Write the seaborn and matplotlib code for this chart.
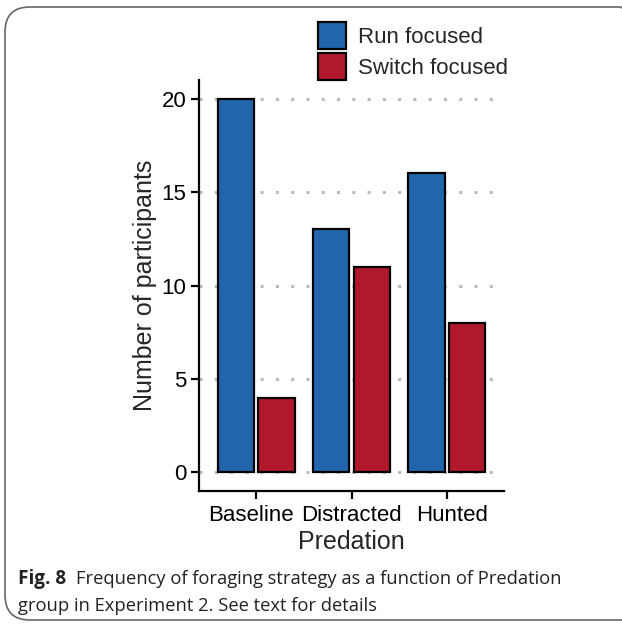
import matplotlib
matplotlib.use("Agg")
from matplotlib import pyplot as plt
from matplotlib.patches import FancyBboxPatch
import matplotlib.transforms as mtransforms
import pandas as pd
import seaborn as sns

groups = ["Baseline", "Distracted", "Hunted"]
run_focused = [20, 13, 16]
switch_focused = [4, 11, 8]
strategies = ["Run focused", "Switch focused"]
colours = ["#2166AC", "#B2182B"]
y_ticks = [0, 5, 10, 15, 20]

data = pd.DataFrame({
    "Predation": groups * 2,
    "Strategy": [strategies[0]] * 3 + [strategies[1]] * 3,
    "Count": run_focused + switch_focused,
})

sns.set_theme(style="ticks")
plt.rcParams["font.family"] = ["Liberation Sans", "DejaVu Sans"]

fig = plt.figure(figsize=(6.22, 6.25), dpi=100)
ax = fig.add_axes([199 / 622, 134 / 625, 305 / 622, 411 / 625])

sns.barplot(data=data, x="Predation", y="Count", hue="Strategy",
            palette=colours, width=0.85, gap=0.1, edgecolor="black",
            linewidth=1.6, saturation=1, ax=ax, zorder=3)

ax.set_xlim(-0.6, 2.6)
ax.set_ylim(-1, 21)
ax.set_yticks(y_ticks)
for y in y_ticks:
    ax.axhline(y, xmax=0.98, color="#bbbbbb", linestyle=(0, (1, 4)), linewidth=2.2, zorder=1)

for s in ["top", "right"]:
    ax.spines[s].set_visible(False)
for s in ["left", "bottom"]:
    ax.spines[s].set_linewidth(1.6)
    ax.spines[s].set_color("black")
ax.tick_params(axis="both", length=6, width=1.6, colors="black", labelsize=16, pad=3)
ax.tick_params(axis="x", pad=4)
ax.set_xlabel("Predation", fontsize=18, labelpad=3)
ax.set_ylabel("Number of participants", fontsize=18, labelpad=3)

# the outer category labels sit a little apart in the original
shifts = [-5, 0, 5]
for lab, dx in zip(ax.get_xticklabels(), shifts):
    lab.set_transform(lab.get_transform() +
                      mtransforms.ScaledTranslation(dx / 100, 0, fig.dpi_scale_trans))

handles, labels = ax.get_legend_handles_labels()
ax.legend(handles, labels, loc="upper left", bbox_to_anchor=(318 / 622, 1 - 22 / 625),
          bbox_transform=fig.transFigure, frameon=False, fontsize=16,
          handlelength=1.26, handleheight=1.49, labelspacing=0.18, handletextpad=0.55,
          borderaxespad=0, borderpad=0)

# rounded frame around the figure panel
frame = FancyBboxPatch((5 / 622, 5 / 625), 640 / 622, 613 / 625,
                       boxstyle="round,pad=0,rounding_size=0.04",
                       transform=fig.transFigure, fill=False,
                       edgecolor="#666666", linewidth=1.2)
fig.patches.append(frame)

# caption
cap_font = ["Open Sans", "DejaVu Sans"]
t1 = fig.text(18 / 622, 1 - 584 / 625, "Fig. 8", fontsize=13.6, fontweight="bold",
              family=cap_font, va="baseline", color="#222222")
fig.canvas.draw()
bb = t1.get_window_extent()
fig.text((bb.x1 + 10) / 622, 1 - 584 / 625,
         "Frequency of foraging strategy as a function of Predation",
         fontsize=13.2, family=cap_font, va="baseline", color="#222222")
fig.text(18 / 622, 1 - 611 / 625, "group in Experiment 2. See text for details",
         fontsize=13.2, family=cap_font, va="baseline", color="#222222")

fig.savefig("out.png", dpi=100)
